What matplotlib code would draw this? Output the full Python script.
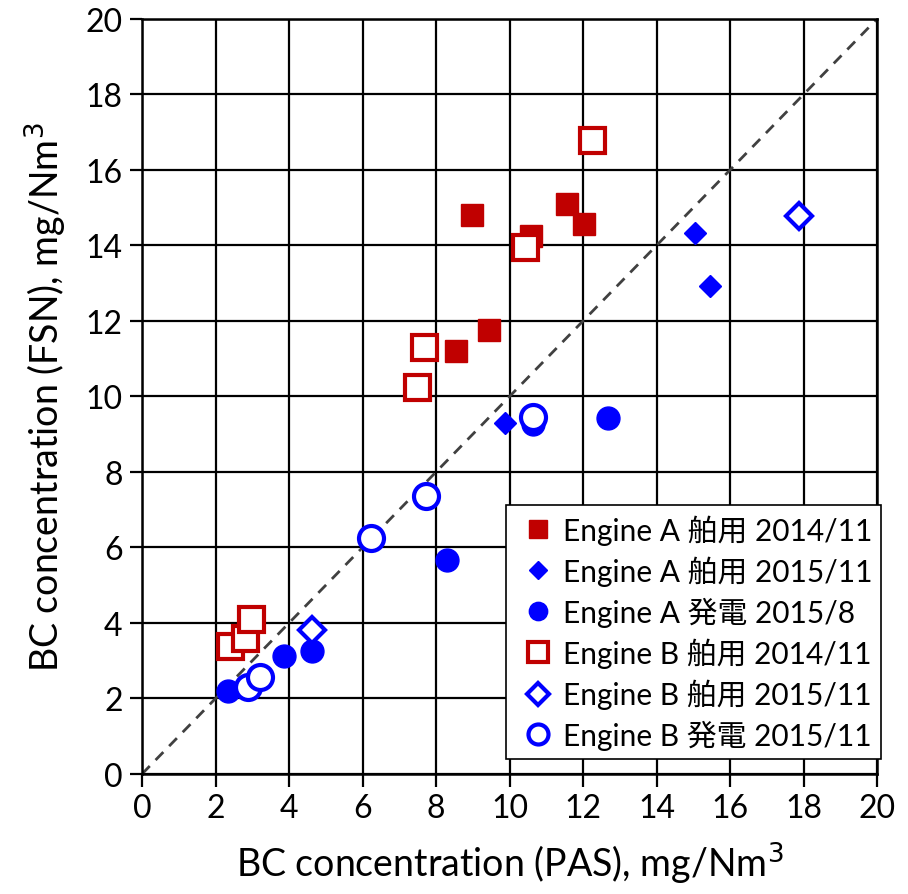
import matplotlib
matplotlib.use("Agg")
import matplotlib.pyplot as plt

plt.rcParams['font.family'] = ['Lato', 'Noto Sans CJK JP', 'DejaVu Sans']

red = "#C00000"
blue = "#0000FF"

# Engine A 舶用 2014/11 (filled squares)
a14_x = [8.98, 10.58, 11.56, 12.03, 9.44, 8.54]
a14_y = [14.81, 14.25, 15.1, 14.57, 11.76, 11.2]
# Engine A 舶用 2015/11 (filled diamonds)
a15_x = [9.88, 15.05, 15.46]
a15_y = [9.3, 14.33, 12.93]
# Engine A 発電 2015/8 (filled circles)
a8_x = [12.68, 10.65, 8.3, 3.86, 4.63, 2.34]
a8_y = [9.43, 9.27, 5.67, 3.13, 3.26, 2.2]
# Engine B 舶用 2014/11 (open squares)
b14_x = [2.4, 2.8, 2.97, 7.48, 7.67, 10.42, 12.24]
b14_y = [3.38, 3.6, 4.1, 10.25, 11.31, 13.96, 16.8]
# Engine B 舶用 2015/11 (open diamonds)
b15_x = [4.63, 17.88]
b15_y = [3.81, 14.78]
# Engine B 発電 2015/11 (open circles)
b11_x = [10.65, 7.73, 6.23, 2.88, 3.22]
b11_y = [9.45, 7.36, 6.25, 2.3, 2.58]

fig = plt.figure(figsize=(9.08, 8.95), dpi=100)
ax = fig.add_axes([0.1564, 0.1341, 0.8095, 0.8436])

ax.plot([0, 20], [0, 20], linestyle=(0, (4, 3)), color="#404040", lw=2, zorder=2)

ax.plot(a14_x, a14_y, 's', ms=16.5, color=red, mec=red, ls='none',
        label="Engine A 舶用 2014/11", zorder=3)
ax.plot(a15_x, a15_y, 'D', ms=11.5, color=blue, mec=blue, ls='none',
        label="Engine A 舶用 2015/11", zorder=3)
ax.plot(a8_x, a8_y, 'o', ms=16.5, color=blue, mec=blue, ls='none',
        label="Engine A 発電 2015/8", zorder=3)
ax.plot(b14_x, b14_y, 's', ms=18, mfc='white', mec=red, mew=3, ls='none',
        label="Engine B 舶用 2014/11", zorder=4)
ax.plot(b15_x, b15_y, 'D', ms=13.5, mfc='white', mec=blue, mew=3, ls='none',
        label="Engine B 舶用 2015/11", zorder=4)
ax.plot(b11_x, b11_y, 'o', ms=18, mfc='white', mec=blue, mew=3, ls='none',
        label="Engine B 発電 2015/11", zorder=4)

ax.set_xlim(0, 20)
ax.set_ylim(0, 20)
ax.set_xticks(range(0, 21, 2))
ax.set_yticks(range(0, 21, 2))
ax.grid(True, color='black', lw=1.6, zorder=1)
ax.set_axisbelow(True)
for s in ax.spines.values():
    s.set_linewidth(1.8)
ax.tick_params(direction='out', length=9, width=1.6, labelsize=23, pad=5)

ax.set_xlabel("BC concentration (PAS), mg/Nm$^3$", fontsize=27, labelpad=12)
ax.set_ylabel("BC concentration (FSN), mg/Nm$^3$", fontsize=27, labelpad=12)

leg = ax.legend(loc='lower right', bbox_to_anchor=(1.006, 0.02), fontsize=21.5,
                frameon=True, fancybox=False, edgecolor='black',
                markerscale=0.8, handlelength=1.5, handletextpad=0.1,
                borderpad=0.3, labelspacing=0.36, borderaxespad=0.0)
leg.get_frame().set_linewidth(1.2)
leg.get_frame().set_alpha(1)

fig.savefig("out.png", dpi=100)
